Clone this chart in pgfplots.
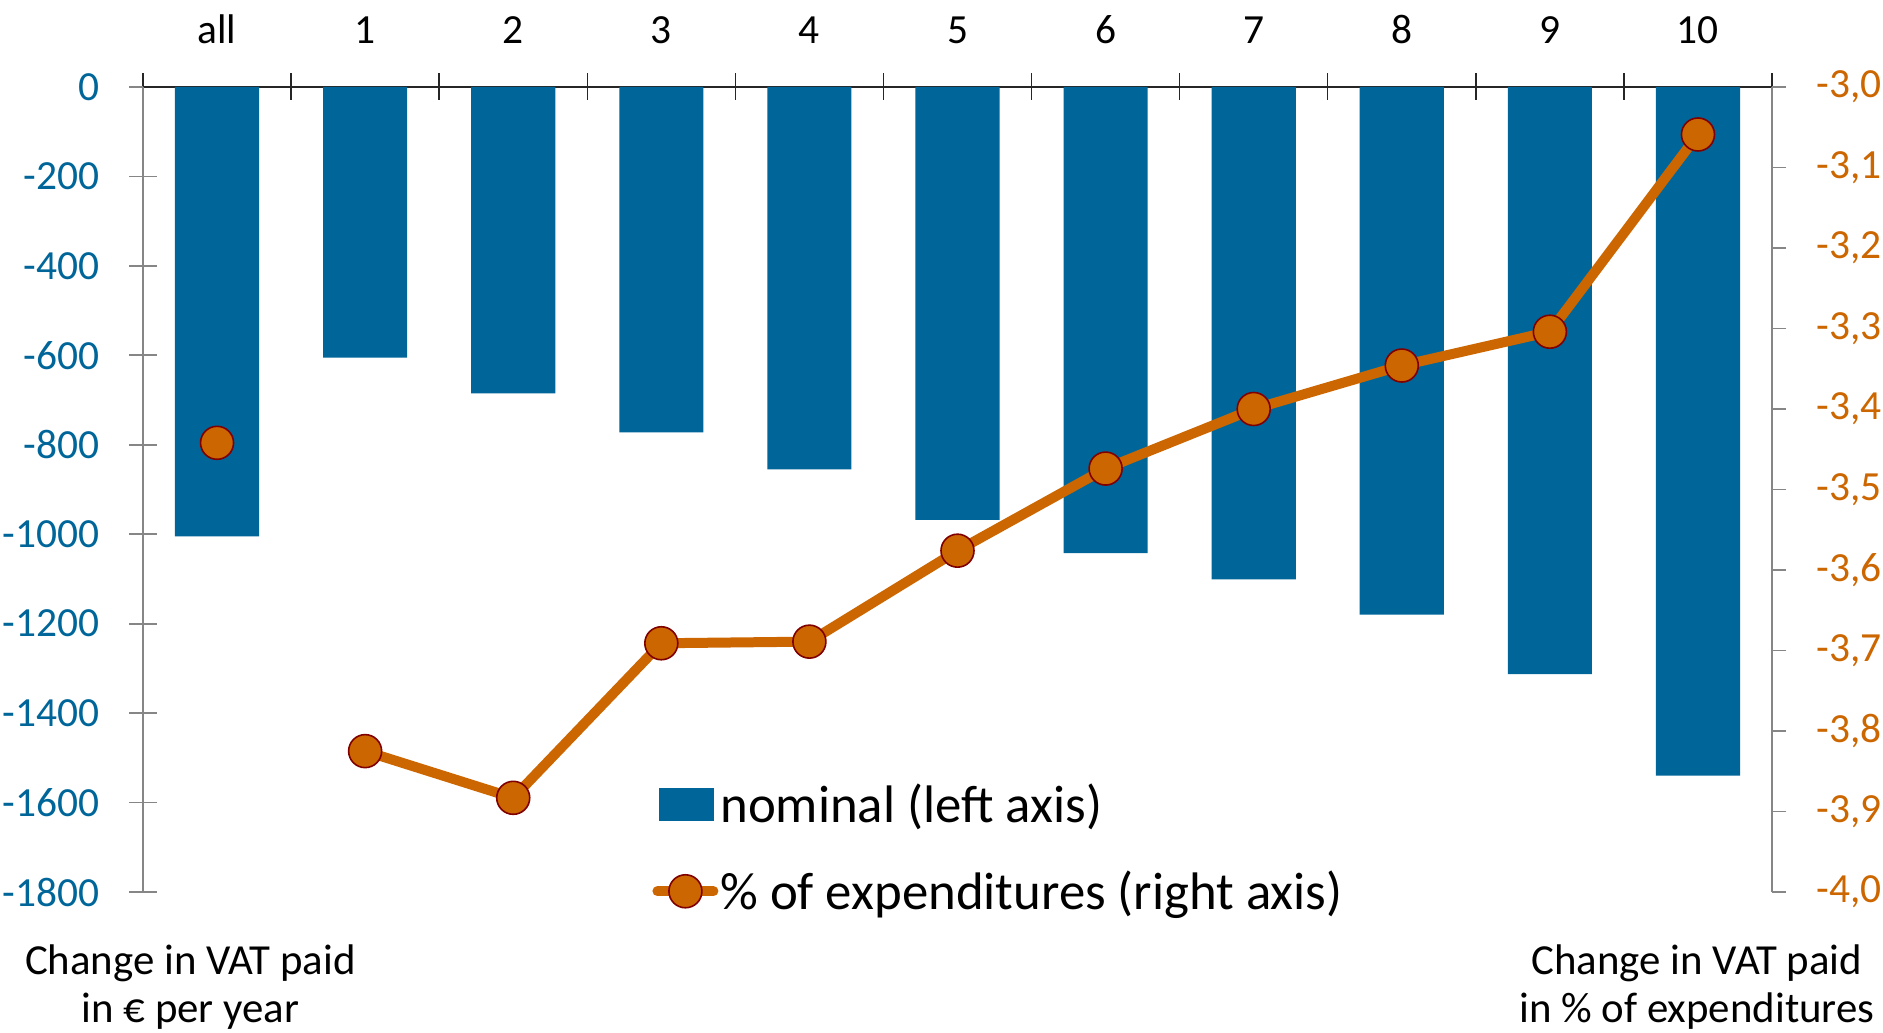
\documentclass[border=0pt]{standalone}
\usepackage{pgfplots}
\pgfplotsset{compat=1.18}
\usepackage{fontspec}
\setmainfont{Carlito}

\definecolor{vatblue}{RGB}{0,102,153}
\definecolor{vatorange}{RGB}{204,102,0}
\definecolor{vatedge}{RGB}{128,0,0}
\definecolor{axisgray}{RGB}{134,134,134}

\newcommand{\tickfont}{\fontsize{20.8}{24}\selectfont}
\newcommand{\descfont}{\fontsize{21.5}{25}\selectfont}
\newcommand{\legfont}{\fontsize{26.5}{30}\selectfont}

\begin{document}
\begin{tikzpicture}
\path[use as bounding box] (-71.5bp,-70.5bp) rectangle (870bp,446bp);

% nominal change, left axis
\begin{axis}[
  at={(0,0)}, anchor=south west,
  scale only axis, width=814.5bp, height=402.5bp,
  xmin=-0.5, xmax=10.5, ymin=-1800, ymax=0,
  axis x line*=top, axis y line*=left,
  x axis line style={black!85, line width=0.7bp},
  y axis line style={axisgray, line width=0.9bp},
  xtick={0,...,10},
  xticklabels={all,1,2,3,4,5,6,7,8,9,10},
  minor xtick={-0.5,0.5,1.5,2.5,3.5,4.5,5.5,6.5,7.5,8.5,9.5,10.5},
  every major x tick/.append style={draw=none},
  every minor x tick/.append style={black!85, line width=0.7bp},
  minor tick length=13.5bp,
  ytick={0,-200,-400,-600,-800,-1000,-1200,-1400,-1600,-1800},
  every major y tick/.append style={axisgray, line width=0.9bp},
  major tick length=14bp,
  tick align=center,
  xticklabel style={font=\tickfont, text=black, anchor=base, inner sep=0pt, yshift=14.5bp},
  yticklabel style={font=\tickfont, text=vatblue, anchor=east, inner sep=0pt, xshift=-14.5bp},
  /pgf/number format/.cd, 1000 sep={}, assume math mode=true,
]
\addplot[ybar, bar width=0.568, fill=vatblue, draw=none] coordinates {
  (0,-1005) (1,-605) (2,-685) (3,-772) (4,-855) (5,-968)
  (6,-1042) (7,-1101) (8,-1180) (9,-1313) (10,-1540)
};
\end{axis}

% share of expenditures, right axis
\begin{axis}[
  at={(0,0)}, anchor=south west,
  scale only axis, width=814.5bp, height=402.5bp,
  xmin=-0.5, xmax=10.5, ymin=-4, ymax=-3,
  axis x line=none, axis y line*=right,
  y axis line style={axisgray, line width=0.9bp},
  ytick={-4,-3.9,-3.8,-3.7,-3.6,-3.5,-3.4,-3.3,-3.2,-3.1,-3},
  every major y tick/.append style={axisgray, line width=0.9bp},
  tick align=outside, major tick length=7bp,
  yticklabel style={font=\tickfont, text=vatorange, anchor=west, inner sep=0pt, xshift=15bp},
  unbounded coords=jump, clip=false,
  legend cell align=left,
  legend style={
    at={(0.3094,0.0547)}, anchor=west,
    draw=none, fill=none, inner sep=0pt,
    font=\legfont, row sep=20.5bp,
    nodes={inner sep=1bp},
  },
  /pgf/number format/.cd, fixed, fixed zerofill, precision=1, use comma, assume math mode=true,
]
\addlegendimage{legend image code/.code={
  \fill[vatblue] (3.5bp,-8bp) rectangle (30.5bp,8bp);
  \path (0bp,0bp) (29.5bp,0bp);}}
\addlegendentry{nominal (left axis)}
\addplot[vatorange, line width=5bp, line cap=round, line join=round,
  mark=*, mark size=8.25bp,
  mark options={fill=vatorange, draw=vatedge, line width=0.8bp},
  legend image code/.code={
    \draw[mark repeat=2, mark phase=2] plot coordinates {(2.5bp,0bp) (16.5bp,0bp) (30.5bp,0bp)};
    \path (0bp,0bp) (29.5bp,0bp);}
] coordinates {
  (0,-3.442) (0.5,nan) (1,-3.825) (2,-3.883) (3,-3.691) (4,-3.689)
  (5,-3.576) (6,-3.474) (7,-3.400) (8,-3.346) (9,-3.304) (10,-3.059)
};
\addlegendentry{\% of expenditures (right axis)}
\end{axis}

% axis descriptions
\node[anchor=base, font=\descfont, inner sep=0pt] at (23.75bp,-41bp) {Change in VAT paid};
\node[anchor=base, font=\descfont, inner sep=0pt] at (23.75bp,-65bp) {in € per year};
\node[anchor=base, font=\descfont, inner sep=0pt] at (777bp,-41bp) {Change in VAT paid};
\node[anchor=base, font=\descfont, inner sep=0pt] at (777bp,-65bp) {in \% of expenditures};
\end{tikzpicture}
\end{document}
